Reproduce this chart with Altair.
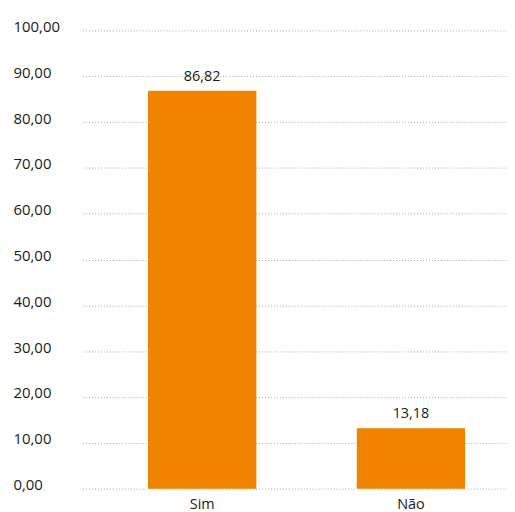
import altair as alt
import pandas as pd

categorias = ["Sim", "Não"]
valores = [86.82, 13.18]
ticks_y = [0, 10, 20, 30, 40, 50, 60, 70, 80, 90, 100]

df = pd.DataFrame({"categoria": categorias, "valor": valores})

FONT = "Open Sans"
TXT = "#1a1a1a"

base = alt.Chart(df).encode(
    x=alt.X(
        "categoria:N",
        sort=categorias,
        title=None,
        scale=alt.Scale(paddingInner=0.481, paddingOuter=0.257, align=0.61),
        axis=alt.Axis(
            labelAngle=0, domain=False, ticks=False, labelPadding=9,
            labelFont=FONT, labelFontSize=14.5, labelColor=TXT, grid=False,
        ),
    ),
    y=alt.Y(
        "valor:Q",
        title=None,
        scale=alt.Scale(domain=[0, 100], nice=False),
        axis=alt.Axis(
            values=ticks_y, domain=False, ticks=False,
            labelAlign="left", labelPadding=70, labelOffset=-4,
            labelExpr="replace(format(datum.value, '.2f'), '.', ',')",
            labelFont=FONT, labelFontSize=15, labelColor=TXT,
            grid=True, gridColor="#a6a6a6", gridDash=[1, 2], gridWidth=1,
        ),
    ),
)

bars = base.mark_bar(color="#F08300")

labels = base.transform_calculate(
    rotulo="replace(format(datum.valor, '.2f'), '.', ',')"
).mark_text(
    dy=-14, font=FONT, fontSize=14.5, color=TXT
).encode(text="rotulo:N")

chart = (bars + labels).properties(
    width=427, height=461,
    background="white",
    padding={"left": 5, "top": 10, "right": 0, "bottom": 0},
).configure_view(stroke=None)

chart.save("out.html", embed_options={"renderer": "svg", "actions": False})
